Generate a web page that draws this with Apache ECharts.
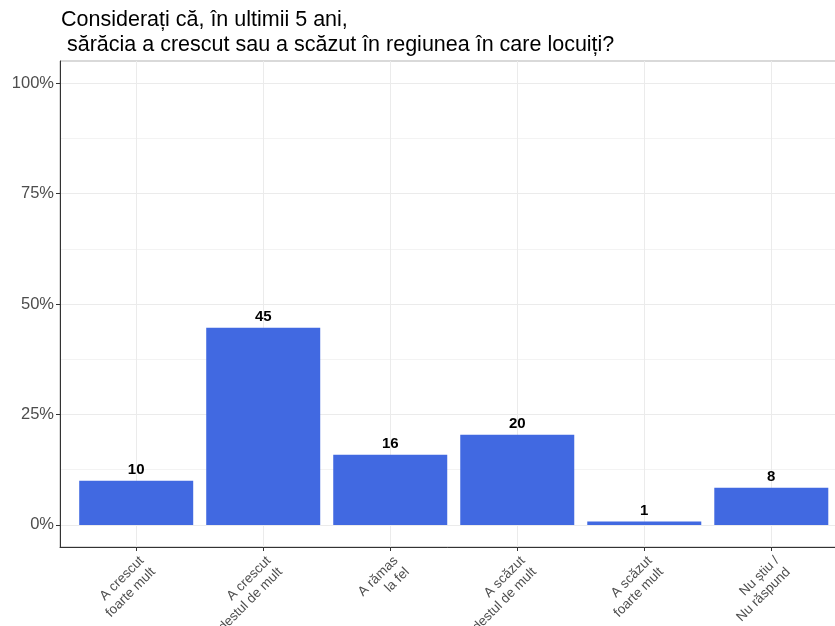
<!DOCTYPE html>
<html>
<head>
<meta charset="utf-8">
<script src="https://cdn.jsdelivr.net/npm/echarts@6/dist/echarts.min.js"></script>
<style>
html,body{margin:0;padding:0;background:#fff;}
#chart{width:835px;height:626px;}
</style>
</head>
<body>
<div id="chart"></div>
<script>
// Data
const categories = ["A crescut\nfoarte mult", "A crescut\ndestul de mult", "A rămas\nla fel", "A scăzut\ndestul de mult", "A scăzut\nfoarte mult", "Nu știu /\nNu răspund"];
const values = [10.0, 44.6, 15.9, 20.4, 0.75, 8.4];
const yTickValues = [0, 25, 50, 75, 100];
const yMinorValues = [12.5, 37.5, 62.5, 87.5];
const titleText = "Considerați că, în ultimii 5 ani,\n sărăcia a crescut sau a scăzut în regiunea în care locuiți?";

const positions = categories.map((c, i) => i + 1);
const seriesData = values.map((v, i) => [positions[i], v]);

const chart = echarts.init(document.getElementById('chart'), null, {renderer: 'canvas'});
const font = 'Liberation Sans, Arial, Helvetica, sans-serif';
chart.setOption({
  animation: false,
  backgroundColor: '#ffffff',
  textStyle: {fontFamily: font},
  title: {
    text: titleText,
    left: 61, top: 8, padding: 0,
    textStyle: {fontFamily: font, fontSize: 21.5, fontWeight: 'normal', color: '#000', lineHeight: 24.5}
  },
  grid: {
    left: 60, width: 787.5, top: 61, bottom: 79,
    outerBoundsMode: 'none', containLabel: false,
    show: true, borderColor: '#b3b3b3', borderWidth: 1, backgroundColor: 'transparent'
  },
  xAxis: {
    type: 'value', min: 0.4, max: 6.6,
    axisLine: {show: true, onZero: false, lineStyle: {color: '#333', width: 1}},
    axisTick: {show: true, length: 4, customValues: positions, lineStyle: {color: '#333'}},
    axisLabel: {
      customValues: positions,
      rotate: 45, margin: 6, fontSize: 13.5, color: '#4d4d4d', lineHeight: 16,
      align: 'right', verticalAlign: 'top', fontFamily: font,
      formatter: v => categories[Math.round(v) - 1] || ''
    },
    splitLine: {show: true, lineStyle: {color: '#ebebeb', width: 1}}
  },
  yAxis: [{
    type: 'value', min: -5, max: 105,
    axisLine: {show: true, lineStyle: {color: '#333', width: 1}},
    axisTick: {show: true, length: 4, customValues: yTickValues, lineStyle: {color: '#333'}},
    axisLabel: {customValues: yTickValues, fontSize: 16.5, color: '#4d4d4d', margin: 6, fontFamily: font,
      formatter: v => v + '%'},
    splitLine: {show: true, lineStyle: {color: '#ebebeb', width: 1}}
  }, {
    type: 'value', min: -5, max: 105, position: 'left',
    axisLine: {show: false},
    axisTick: {show: false, customValues: yMinorValues},
    axisLabel: {show: false, customValues: yMinorValues},
    splitLine: {show: true, lineStyle: {color: '#f3f3f3', width: 1}}
  }],
  series: [{
    type: 'bar',
    data: seriesData,
    barWidth: 114,
    itemStyle: {color: '#4169E1'},
    label: {
      show: true, position: 'top', distance: 3,
      fontSize: 15, fontWeight: 'bold', color: '#000', fontFamily: font,
      formatter: p => Math.round(p.value[1])
    },
    z: 3
  }]
});
</script>
</body>
</html>
